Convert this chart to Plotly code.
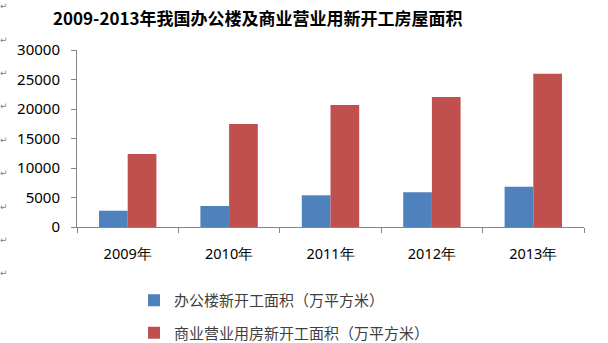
import plotly.graph_objects as go

years = ["2009年", "2010年", "2011年", "2012年", "2013年"]
office = [2760, 3560, 5370, 5880, 6830]
commercial = [12370, 17460, 20680, 22030, 25980]
series_names = ["办公楼新开工面积（万平方米）", "商业营业用房新开工面积（万平方米）"]
y_ticks = [0, 5000, 10000, 15000, 20000, 25000, 30000]
mark_rows = [6, 40, 73, 106, 140, 173, 207, 240, 273]

W, H = 608, 343
L, R, T, B = 77, 584, 50, 227


def px_to_domain(px, py):
    return (px - L) / (R - L), (B - py) / (B - T)


fig = go.Figure()
fig.add_trace(go.Bar(x=years, y=office, name=series_names[0], marker_color="#4F81BD",
                     marker_line_width=0, legendgroup="a"))
fig.add_trace(go.Bar(x=years, y=commercial, name=series_names[1], marker_color="#C0504D",
                     marker_line_width=0, legendgroup="b"))

annotations = []
tx, ty = px_to_domain(258, 18)
annotations.append(dict(text="<b>2009-2013年我国办公楼及商业营业用新开工房屋面积</b>",
                        x=tx, y=ty, xref="paper", yref="paper",
                        xanchor="center", yanchor="middle", showarrow=False,
                        font=dict(family="Noto Sans CJK SC", size=17, color="#000000")))
for yy in mark_rows:
    mx, my = px_to_domain(4, yy)
    annotations.append(dict(text="↵", x=mx, y=my, xref="paper", yref="paper",
                            xanchor="center", yanchor="middle", showarrow=False,
                            font=dict(family="DejaVu Sans", size=9, color="#808080")))

lx, ly = px_to_domain(134, 284)

fig.update_layout(
    width=W, height=H,
    margin=dict(l=L, r=W - R, t=T, b=H - B, pad=0, autoexpand=False),
    paper_bgcolor="white", plot_bgcolor="white",
    barmode="group", bargap=0.434, bargroupgap=0,
    showlegend=True,
    legend=dict(x=lx, y=ly, xanchor="left", yanchor="top",
                font=dict(family="Noto Sans CJK SC", size=15, color="#404040"),
                traceorder="grouped", tracegroupgap=10, bgcolor="rgba(0,0,0,0)",
                itemwidth=30),
    xaxis=dict(type="category", tickson="boundaries", ticks="outside", ticklen=5,
               tickcolor="#868686", showline=True, linecolor="#868686", linewidth=1,
               showgrid=False, automargin=False,
               tickfont=dict(family="Noto Sans", size=14.5, color="#000000"),
               ticklabelstandoff=14),
    yaxis=dict(range=[0, 30000], tickvals=y_ticks, tickformat="d", ticks="outside", ticklen=5,
               tickcolor="#868686", showline=True, linecolor="#868686", linewidth=1,
               showgrid=False, zeroline=False, automargin=False,
               tickfont=dict(family="Noto Sans", size=15, color="#000000"),
               ticklabelstandoff=8),
    annotations=annotations,
)

fig.write_html("out.html")
